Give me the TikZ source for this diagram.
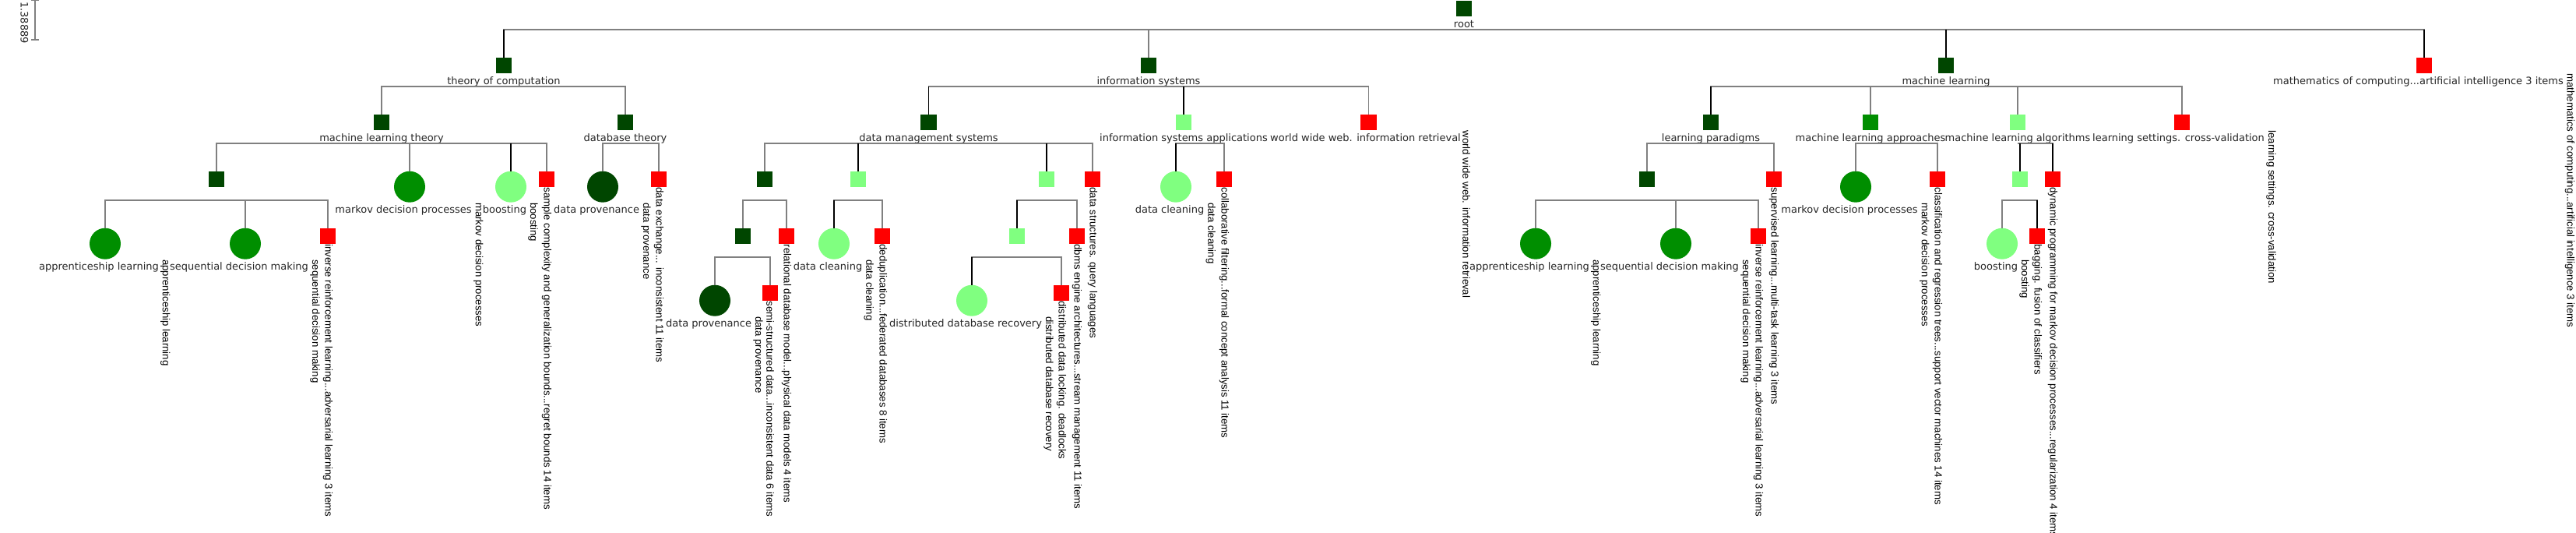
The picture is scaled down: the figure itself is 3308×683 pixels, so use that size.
\documentclass[tikz,border=0pt]{standalone}
\usepackage{fontspec}
\usepackage{xcolor}
\usepackage{tikz}
\newfontfamily\hfont{DejaVu Sans}
\newfontfamily\vfont{Liberation Sans}
\definecolor{dkgreen}{RGB}{0,70,0}
\definecolor{mdgreen}{RGB}{0,142,0}
\definecolor{ltgreen}{RGB}{128,255,128}
\definecolor{linkgray}{RGB}{128,128,128}
\tikzset{
  sq/.style={rectangle,minimum size=20.5pt,inner sep=0pt,anchor=north},
  ci/.style={circle,minimum size=40pt,inner sep=0pt,anchor=north},
  dk/.style={fill=dkgreen},
  md/.style={fill=mdgreen},
  lt/.style={fill=ltgreen},
  rd/.style={fill=red},
  hl/.style={font=\hfont\fontsize{13pt}{15pt}\selectfont,text=black!85,inner sep=0pt,anchor=base},
  vl/.style={font=\vfont\fontsize{13.2pt}{15pt}\selectfont,inner sep=0pt,rotate=-90},
  link/.style={draw=linkgray,line width=1.7pt},
  dlink/.style={draw=black,line width=1.1pt}
}

\begin{document}
\begin{tikzpicture}[x=1pt,y=-1pt]
\useasboundingbox (0,0) rectangle (3308,683);
% scale
\draw[link] (40,0.5) -- (50,0.5) (45,0.5) -- (45,51) (40,51) -- (50,51);
\node[hl,rotate=-90,anchor=north west] (scale) at (36.5,2) {1.38889};

% level 0 and 1
\node[sq,dk] (0) at (1880,0.5) {};
\node[hl] (0l) at ([yshift=-14pt]0.south) {root};
\node[sq,dk] (1) at (647,73.5) {};
\node[hl] (1l) at ([yshift=-14pt]1.south) {theory of computation};
\node[sq,dk] (2) at (1475,73.5) {};
\node[hl] (2l) at ([yshift=-14pt]2.south) {information systems};
\node[sq,dk] (3) at (2499,73.5) {};
\node[hl] (3l) at ([yshift=-14pt]3.south) {machine learning};
\node[sq,rd] (4) at (3113,73.5) {};
\node[hl] (4l) at ([xshift=-7.5pt,yshift=-14pt]4.south) {mathematics of computing...artificial intelligence 3 items};
\node[vl,anchor=south west] (4v) at ([xshift=1.5pt]4l.east |- 4.south) {mathematics of computing...artificial intelligence 3 items};

% level 2
\node[sq,dk] (5) at (490,146.5) {};
\node[hl] (5l) at ([yshift=-14pt]5.south) {machine learning theory};
\node[sq,dk] (6) at (803,146.5) {};
\node[hl] (6l) at ([yshift=-14pt]6.south) {database theory};
\node[sq,dk] (7) at (1192.5,146.5) {};
\node[hl] (7l) at ([yshift=-14pt]7.south) {data management systems};
\node[sq,lt] (8) at (1520,146.5) {};
\node[hl] (8l) at ([yshift=-14pt]8.south) {information systems applications};
\node[sq,rd] (9) at (1757.5,146.5) {};
\node[hl] (9l) at ([xshift=-4pt,yshift=-14pt]9.south) {world wide web. information retrieval};
\node[vl,anchor=south west] (9v) at ([xshift=2pt]9l.east |- 9.south) {world wide web. information retrieval};
\node[sq,dk] (10) at (2197,146.5) {};
\node[hl] (10l) at ([yshift=-14pt]10.south) {learning paradigms};
\node[sq,md] (11) at (2402,146.5) {};
\node[hl] (11l) at ([yshift=-14pt]11.south) {machine learning approaches};
\node[sq,lt] (12) at (2591,146.5) {};
\node[hl] (12l) at ([yshift=-14pt]12.south) {machine learning algorithms};
\node[sq,rd] (13) at (2802,146.5) {};
\node[hl] (13l) at ([xshift=-4.5pt,yshift=-14pt]13.south) {learning settings. cross-validation};
\node[vl,anchor=south west] (13v) at ([xshift=2pt]13l.east |- 13.south) {learning settings. cross-validation};

% level 3
\node[sq,dk] (14) at (278,219.5) {};
\node[ci,md] (15) at (526,219.5) {};
\node[hl] (15l) at ([xshift=-8pt,yshift=-14pt]15.south) {markov decision processes};
\node[vl,anchor=south west] (15v) at ([xshift=2pt]15l.east |- 15.south) {markov decision processes};
\node[ci,lt] (16) at (656,219.5) {};
\node[hl] (16l) at ([xshift=-8pt,yshift=-14pt]16.south) {boosting};
\node[vl,anchor=south west] (16v) at ([xshift=2pt]16l.east |- 16.south) {boosting};
\node[sq,rd] (17) at (702,219.5) {};
\node[vl,anchor=west] (17v) at (17.south) {sample complexity and generalization bounds...regret bounds 14 items};
\node[ci,dk] (18) at (774,219.5) {};
\node[hl] (18l) at ([xshift=-8pt,yshift=-14pt]18.south) {data provenance};
\node[vl,anchor=south west] (18v) at ([xshift=2pt]18l.east |- 18.south) {data provenance};
\node[sq,rd] (19) at (846,219.5) {};
\node[vl,anchor=west] (19v) at (19.south) {data exchange... inconsistent 11 items};
\node[sq,dk] (20) at (982,219.5) {};
\node[sq,lt] (21) at (1102,219.5) {};
\node[sq,lt] (22) at (1344,219.5) {};
\node[sq,rd] (23) at (1403,219.5) {};
\node[vl,anchor=west] (23v) at (23.south) {data structures. query languages};
\node[ci,lt] (24) at (1510,219.5) {};
\node[hl] (24l) at ([xshift=-8pt,yshift=-14pt]24.south) {data cleaning};
\node[vl,anchor=south west] (24v) at ([xshift=2pt]24l.east |- 24.south) {data cleaning};
\node[sq,rd] (25) at (1572,219.5) {};
\node[vl,anchor=west] (25v) at (25.south) {collaborative filtering...formal concept analysis 11 items};
\node[sq,dk] (26) at (2115,219.5) {};
\node[sq,rd] (27) at (2278,219.5) {};
\node[vl,anchor=west] (27v) at (27.south) {supervised learning...multi-task learning 3 items};
\node[ci,md] (28) at (2383,219.5) {};
\node[hl] (28l) at ([xshift=-8pt,yshift=-14pt]28.south) {markov decision processes};
\node[vl,anchor=south west] (28v) at ([xshift=2pt]28l.east |- 28.south) {markov decision processes};
\node[sq,rd] (29) at (2488,219.5) {};
\node[vl,anchor=west] (29v) at (29.south) {classification and regression trees...support vector machines 14 items};
\node[sq,lt] (30) at (2594,219.5) {};
\node[sq,rd] (31) at (2636,219.5) {};
\node[vl,anchor=west] (31v) at (31.south) {dynamic programming for markov decision processes...regularization 4 items};

% level 4
\node[ci,md] (32) at (135,292.5) {};
\node[hl] (32l) at ([xshift=-8pt,yshift=-14pt]32.south) {apprenticeship learning};
\node[vl,anchor=south west] (32v) at ([xshift=2pt]32l.east |- 32.south) {apprenticeship learning};
\node[ci,md] (33) at (315,292.5) {};
\node[hl] (33l) at ([xshift=-8pt,yshift=-14pt]33.south) {sequential decision making};
\node[vl,anchor=south west] (33v) at ([xshift=2pt]33l.east |- 33.south) {sequential decision making};
\node[sq,rd] (34) at (421,292.5) {};
\node[vl,anchor=west] (34v) at (34.south) {inverse reinforcement learning...adversarial learning 3 items};
\node[sq,dk] (35) at (954,292.5) {};
\node[sq,rd] (36) at (1010,292.5) {};
\node[vl,anchor=west] (36v) at (36.south) {relational database model...physical data models 4 items};
\node[ci,lt] (37) at (1071,292.5) {};
\node[hl] (37l) at ([xshift=-8pt,yshift=-14pt]37.south) {data cleaning};
\node[vl,anchor=south west] (37v) at ([xshift=2pt]37l.east |- 37.south) {data cleaning};
\node[sq,rd] (38) at (1133,292.5) {};
\node[vl,anchor=west] (38v) at (38.south) {deduplication...federated databases 8 items};
\node[sq,lt] (39) at (1306,292.5) {};
\node[sq,rd] (40) at (1383,292.5) {};
\node[vl,anchor=west] (40v) at (40.south) {dbms engine architectures...stream management 11 items};
\node[ci,md] (41) at (1972,292.5) {};
\node[hl] (41l) at ([xshift=-8pt,yshift=-14pt]41.south) {apprenticeship learning};
\node[vl,anchor=south west] (41v) at ([xshift=2pt]41l.east |- 41.south) {apprenticeship learning};
\node[ci,md] (42) at (2152,292.5) {};
\node[hl] (42l) at ([xshift=-8pt,yshift=-14pt]42.south) {sequential decision making};
\node[vl,anchor=south west] (42v) at ([xshift=2pt]42l.east |- 42.south) {sequential decision making};
\node[sq,rd] (43) at (2258,292.5) {};
\node[vl,anchor=west] (43v) at (43.south) {inverse reinforcement learning...adversarial learning 3 items};
\node[ci,lt] (44) at (2571,292.5) {};
\node[hl] (44l) at ([xshift=-8pt,yshift=-14pt]44.south) {boosting};
\node[vl,anchor=south west] (44v) at ([xshift=2pt]44l.east |- 44.south) {boosting};
\node[sq,rd] (45) at (2616,292.5) {};
\node[vl,anchor=west] (45v) at (45.south) {bagging. fusion of classifiers};

% level 5
\node[ci,dk] (46) at (918,365.5) {};
\node[hl] (46l) at ([xshift=-8pt,yshift=-14pt]46.south) {data provenance};
\node[vl,anchor=south west] (46v) at ([xshift=2pt]46l.east |- 46.south) {data provenance};
\node[sq,rd] (47) at (989,365.5) {};
\node[vl,anchor=west] (47v) at (47.south) {semi-structured data...inconsistent data 6 items};
\node[ci,lt] (48) at (1248,365.5) {};
\node[hl] (48l) at ([xshift=-8pt,yshift=-14pt]48.south) {distributed database recovery};
\node[vl,anchor=south west] (48v) at ([xshift=2pt]48l.east |- 48.south) {distributed database recovery};
\node[sq,rd] (49) at (1363,365.5) {};
\node[vl,anchor=west] (49v) at (49.south) {distributed data locking. deadlocks};

% connectors
\foreach \p/\c in {0/1,0/2,0/3,0/4,1/5,1/6,2/7,2/8,2/9,3/10,3/11,3/12,3/13,
    5/14,5/15,5/16,5/17,6/18,6/19,7/20,7/21,7/22,7/23,8/24,8/25,
    10/26,10/27,11/28,11/29,12/30,12/31,14/32,14/33,14/34,20/35,20/36,
    21/37,21/38,22/39,22/40,26/41,26/42,26/43,30/44,30/45,35/46,35/47,39/48,39/49}
  \draw[link] (\p.north) ++(0,37.5) -| (\c.north);
\foreach \c in {1,3,4,7,8,10,16,21,22,24,30,31,37,39,45,48}
  \draw[dlink] (\c.north) -- ++(0,-35.5);
\end{tikzpicture}
\end{document}
